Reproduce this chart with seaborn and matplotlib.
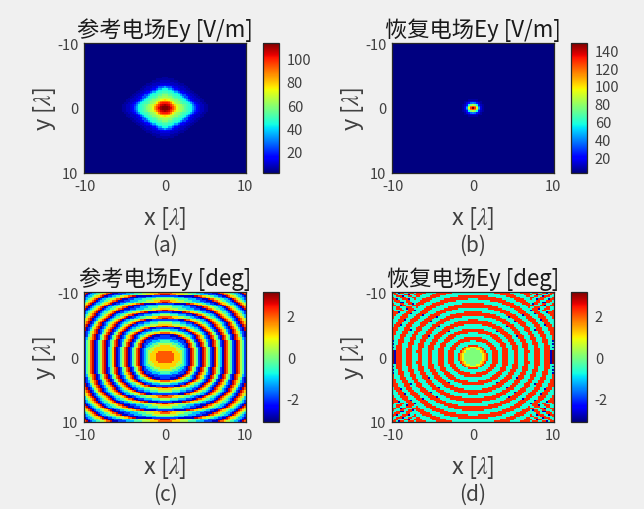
import numpy as np
import matplotlib
matplotlib.use("Agg")
import matplotlib.pyplot as plt
import seaborn as sns

# upper left quarter of each map (the maps are mirror symmetric)
# cells are 0.25 lambda, last char of a row is x=0, last row is y=0

# amplitude levels 0-z, only the part around the peak, the rest is background
AMP_REF_ROWS = [
    "00000000000000000000000",
    "00000000000000000000011",
    "00000000000000000011111",
    "00000000000000001111222",
    "00000000000000011122222",
    "00000000000001112222333",
    "00000000000011122233445",
    "00000000000112223347 78a",
    "00000000001122234 47aadd",
    "00000000011223347 7addee",
    "000000001122344 7aadeeff",
    "00000001122344 7addeffgg",
    "00000011223477adeefggii",
    "0000011223477adeffgiijj",
    "000011223347adefggijkkl",
    "00011222347adefgiijkmno",
    "0001122347adefgiijlorss",
    "001122347adeffgijknruvv",
    "011223469defghjkloruwxy",
    "01122347adefgijkmqtvyzz",
    "01122347adefgijkmqtwyzz",
]
AMP_REC_ROWS = [
    "000111",
    "011233",
    "013589",
    "125dik",
    "138jrt",
    "13amuz",
]

# phase levels 0-7, one group per stripe
PHASE_REF_ROWS = [
    "67 012233445667 000111122223333444455556666",
    "7 01223345667 00011112222333344445555666777",
    "0122345567 0011223344556677 000000001111111",
    "122345567 01122334455667 000011112222233333",
    "1234567 012233445667 0001112222333334444444",
    "234567 01223345667 000111222233334444555666",
    "34567 0122345567 00011122223333444455556677",
    "4567 0122345567 0011223344556677 00000011111",
    "567 012334567 0112233455667 0001112222223333",
    "67 01234567 012233445667 0001112222333334444",
    "7 01234567 01223345667 000111222233334444555",
    "01234567 0122345567 00111222333444455566677",
    "1234567 012334567 0011223344556677 000001111",
    "124567 012334567 012233445667 00011112222333",
    "234567 01234567 01223345667 0011122223333444",
    "24567 01234567 012334567 0011223334445556666",
    "4567 01234567 012334567 00112233344455566677",
    "4567 0124567 01234567 012233445667 0001111111",
    "567 0124567 01234567 0122345567 0011122223333",
    "567 013467 01234567 012334567 011122233334444",
    "67 0124567 0124567 01234567 01122233344445555",
    "67 013467 01234567 0124567 011223344455566677",
    "7 0124567 0124567 0124567 01223345667 00011111",
    "7 013467 0124567 0124567 012334567 01112222333",
    "0124567 0124567 013467 012334567 011223334444",
    "0124567 013467 013467 01234567 01223344555666",
    "013467 0124567 013467 0124567 0122345567 00000",
    "013467 013467 013467 0124567 012334567 0000111",
    "124567 013467 013467 0124567 0124567 000111111",
    "124567 013467 02357 0124567 0124567 0011112222",
    "13467 013467 013467 0124567 013467 01112222333",
    "13467 013467 013467 013467 0124567 01122233333",
    "13467 013467 013467 013467 013467 011223334444",
    "13467 013467 013467 013467 013467 012233444555",
    "13467 013467 02357 013467 0124567 012334455555",
    "13467 013467 02357 013467 013467 0123344555555",
    "13467 013467 02357 013467 013467 0123444555555",
    "13467 013467 02357 013467 013467 0123445556666",
    "13467 013467 02357 013467 013467 0123455566666",
    "13467 013467 02357 013467 013467 0123455566666",
    "13467 013467 02357 013467 013467 0123455566666",
]
PHASE_REC_ROWS = [
    "rrcbrrccrrrc" "rrrrrcccccrrrrrrrrccccccccccc",
    "crrcccrrbccr" "rrrcccccrrrrrrrcccccccccccccc",
    "ccrrrbccrrcc" "rrcccccrrrrrcccccccccrrrrrrrr",
    "rcccrrrcccrr" "cccccrrrrrcccccccrrrrrrrrrrrr",
    "rrbccrrrbccr" "cccrrrrrccccccrrrrrrrrrrrrccc",
    "crrrcccrrccc" "ccrrrrrcccccrrrrrrrrccccccccc",
    "ccrrbbcrrrcc" "crrrrcccccrrrrrrccccccccccccc",
    "rcccrrccrrbc" "rrrrccccrrrrrrcccccccccrrrrrr",
    "rrccbrrcccrr" "rrcccccrrrrrcccccccrrrrrrrrrr",
    "ccrrcccrrrcc" "rccccrrrrrccccccrrrrrrrrrrrrr",
    "ccrrrccbrrrc" "ccccrrrrccccccrrrrrrrcccccccc",
    "rcccrrccrrrb" "cccrrrrcccccrrrrrrccccccccccc",
    "rrrbcccrrrccccrrrrccccrrrrrcccccccccrrrrr",
    "rrrcccrrrbcccrrrrccccrrrrcccccccrrrrrrrrr",
    "rrcccrrrccccrrrbcccrrrrrcccccrrrrrrrrrrrr",
    "rcccrrrrcccrrrccccrrrrbccccrrrrrrrrcccccc",
    "rcccrrrcccrrrrcccrrrrcccccrrrrrcccccccccc",
    "cccrrrbccrrrrcccrrrrccccrrrrrcccccccccrrr",
    "cccrrrcccrrrcccrrrrbcccrrrrccccccrrrrrrrr",
    "ccrrrcccrrrcccrrrrccccrrrrcccccrrrrrrrrrr",
    "crrrbccrrrccccrrrcccrrrrcccccrrrrrrrccccc",
    "crrrcccrrrcccrrrccccrrrbcccrrrrrrcccccccc",
    "rrrcccrrrcccrrrccccrrrccccrrrrrcccccccccc",
    "rrrcccrrrbccrrrcccrrrccccrrrrccccccrrrrrr",
    "rrcccrrrcccrrrcccrrrccccrrrrbccccrrrrrrrr",
    "rrcccrrrcccrrccccrrrcccrrrrccccrrrrrrrccc",
    "rrccrrrcccrrrcccrrrcccrrrrcccrrrrrccccccc",
    "rcccrrrcccrrcccrrrbccrrrrcccrrrrccccccccc",
    "rcccrrcccrrrcccrrrcccrrrcccrrrrcccccrrrrr",
    "rccrrrcccrrrccrrrcccrrrcccrrrrccccrrrrrrr",
    "bccrrrcccrrcccrrrcccrrrcccrrrccccrrrrrrcc",
    "cccrrrccrrrcccrrcccrrrcccrrrccccrrrrccccc",
    "bccrrcccrrrccrrrcccrrrccrrrccccrrrccccccc",
    "ccrrrcccrrcccrrrccrrrcccrrrcccrrrcccccrrr",
    "bcrrrcccrrcccrrrccrrrcccrrcccrrrccccrooyy",
    "ccrrrccrrrcccrrcccrrrccrrrcccrrrcccroyygg",
    "dbrrrccrrrccrrrcccrrcccrrrccrrrcccroygggg",
    "dbrrrccrrrccrrrcccrrcccrrrccrrrcccroygggg",
    "dbrrrccrrrcccrrcccrrcccrrrccrrrcc" "royggggg",
    "dbrrrccrrrcccrrcccrrcccrrrccrrrcc" "royggggg",
    "dbrrrccrrrcccrrcccrrcccrrrccrrrcc" "royggggg",
]
PHASE_REC_VALUES = {"c": -0.7, "r": 2.3, "o": 1.5, "y": 0.9, "g": 0.0, "b": -2.8, "d": 3.0}

AMP_REF_RANGE = (2, 113)
AMP_REC_RANGE = (2.4, 148)
PHASE_RANGE = (-np.pi, np.pi)

AMP_REF_TICKS = [20, 40, 60, 80, 100]
AMP_REC_TICKS = [20, 40, 60, 80, 100, 120, 140]
PHASE_TICKS = [-2, 0, 2]
AXIS_TICKS = [-10, 0, 10]

TITLES = ["参考电场Ey [V/m]", "恢复电场Ey [V/m]", "参考电场Ey [deg]", "恢复电场Ey [deg]"]
CAPTIONS = ["(a)", "(b)", "(c)", "(d)"]

W, H = 644, 510
TEXT = "#404040"
N_QUARTER = 41


def clean(rows):
    return [r.replace(" ", "") for r in rows]


def amp_levels(rows, rng):
    q = np.array([[int(ch, 36) for ch in r] for r in clean(rows)], dtype=float)
    q = rng[0] + q / 35 * (rng[1] - rng[0])
    pad = N_QUARTER - q.shape[0], N_QUARTER - q.shape[1]
    return np.pad(q, ((pad[0], 0), (pad[1], 0)), constant_values=rng[0])


def phase_levels(rows):
    q = np.array([[int(ch) for ch in r] for r in clean(rows)], dtype=float)
    return -np.pi + (q + 0.5) * np.pi / 4


def unfold(q):
    top = np.hstack([q, q[:, -2::-1]])
    return np.vstack([top, top[-2::-1]])


def box(x0, y0, x1, y1):
    # pixel box from the top left to figure coordinates
    return [x0 / W, 1 - y1 / H, (x1 - x0) / W, (y1 - y0) / H]


sns.set_theme(style="white")
plt.rcParams["font.family"] = ["Noto Sans CJK SC", "DejaVu Sans"]
plt.rcParams["mathtext.fontset"] = "stix"
plt.rcParams["axes.unicode_minus"] = False

maps = [
    (unfold(amp_levels(AMP_REF_ROWS, AMP_REF_RANGE)), AMP_REF_RANGE, AMP_REF_TICKS),
    (unfold(amp_levels(AMP_REC_ROWS, AMP_REC_RANGE)), AMP_REC_RANGE, AMP_REC_TICKS),
    (unfold(phase_levels(PHASE_REF_ROWS)), PHASE_RANGE, PHASE_TICKS),
    (unfold(np.array([[PHASE_REC_VALUES[ch] for ch in r] for r in PHASE_REC_ROWS])), PHASE_RANGE, PHASE_TICKS),
]

fig = plt.figure(figsize=(W / 100, H / 100), dpi=100, facecolor="#f0f0f0")
lefts = [84, 392, 84, 392]
tops = [44, 44, 293, 293]
plot_w, plot_h, bar_gap, bar_w = 162, 130, 17, 15.5

for i, (grid, rng, bar_ticks) in enumerate(maps):
    x0, y0 = lefts[i], tops[i]
    ax = fig.add_axes(box(x0, y0, x0 + plot_w, y0 + plot_h))
    cax = fig.add_axes(box(x0 + plot_w + bar_gap, y0, x0 + plot_w + bar_gap + bar_w, y0 + plot_h))
    sns.heatmap(grid, ax=ax, cbar_ax=cax, cmap="jet", vmin=rng[0], vmax=rng[1],
                xticklabels=False, yticklabels=False, cbar_kws={"ticks": bar_ticks})

    # ticks sit on the cell centres, -10 is the first cell
    pos = [(t + 10) * 4 + 0.5 for t in AXIS_TICKS]
    ax.set_xticks(pos, [str(t) for t in AXIS_TICKS])
    ax.set_yticks(pos, [str(t) for t in AXIS_TICKS])
    ax.tick_params(direction="in", length=2, width=0.6, colors=TEXT, labelsize=10.5,
                   top=True, right=True, bottom=True, left=True, pad=4)
    for sp in ax.spines.values():
        sp.set_visible(True)
        sp.set_color("#262626")
        sp.set_linewidth(0.9)

    ax.set_xlabel(r"x [$\lambda$]", fontsize=17, color=TEXT, labelpad=8)
    ax.set_ylabel(r"y [$\lambda$]", fontsize=17, color=TEXT, labelpad=-1)
    ax.set_title(TITLES[i], fontsize=16, color="#1a1a1a", pad=5)

    cax.tick_params(direction="in", length=2, width=0.6, colors=TEXT, labelsize=10.5,
                    right=True, left=False, pad=6)
    cbar = ax.collections[0].colorbar
    cbar.outline.set_visible(True)
    cbar.outline.set_edgecolor("#262626")
    cbar.outline.set_linewidth(0.9)

    fig.text((x0 + plot_w / 2) / W, 1 - (y0 + plot_h + 72) / H, CAPTIONS[i], fontsize=15,
             color=TEXT, ha="center", va="center")

fig.savefig("out.png", dpi=100, facecolor=fig.get_facecolor())
